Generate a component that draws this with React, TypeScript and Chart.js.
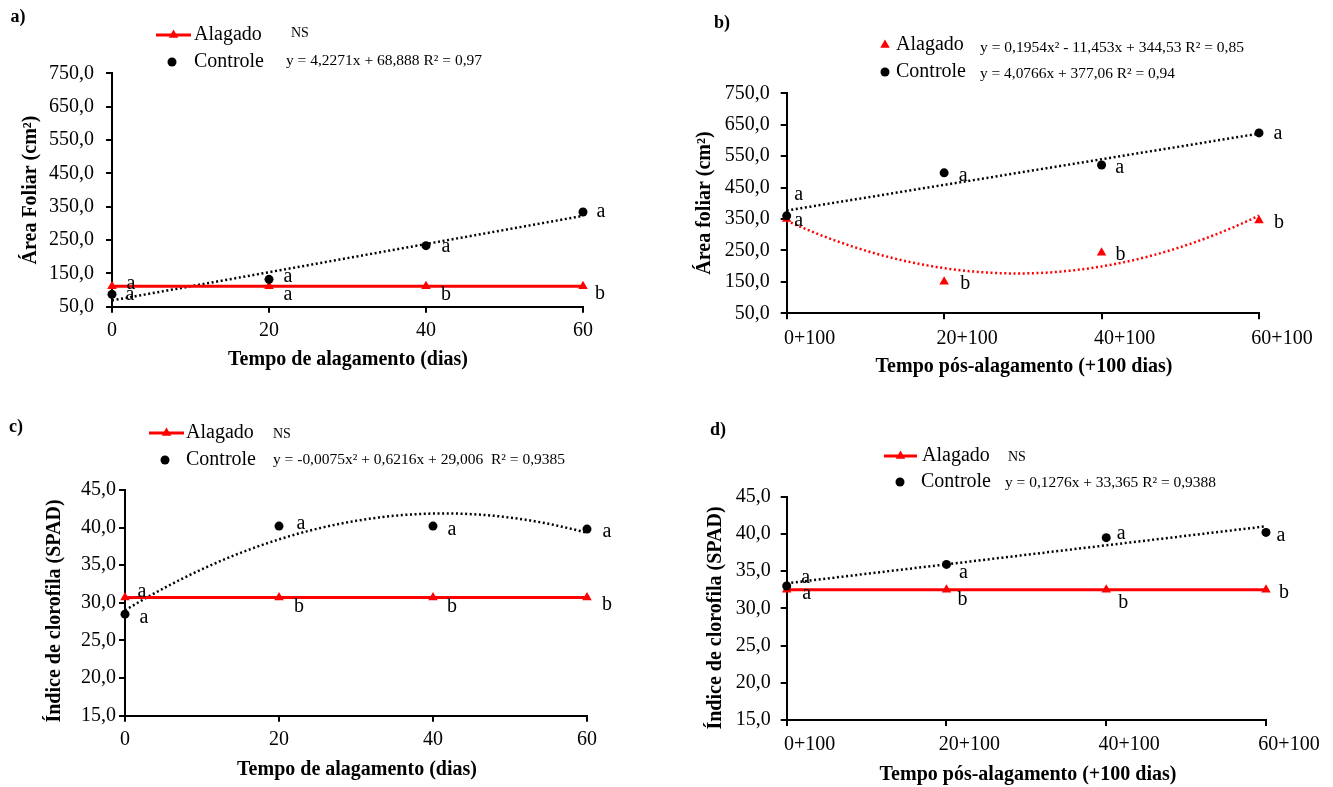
import React, { useEffect, useRef } from "react";
import { Chart, registerables } from "chart.js";

Chart.register(...registerables);

const SERIF = "'Times New Roman', 'Liberation Serif', serif";
const RED = "#ff0000";
const BLACK = "#000000";

// Sampling days shared by the four panels
const days = [0, 20, 40, 60];
const xLabelsFlood = ["0", "20", "40", "60"];
const xLabelsPost = ["0+100", "20+100", "40+100", "60+100"];
const yTicksLeaf = [50, 150, 250, 350, 450, 550, 650, 750];
const yTicksSpad = [15, 20, 25, 30, 35, 40, 45];

// a) leaf area during flooding
const areaFloodAlagado = [111, 111, 111, 111];
const areaFloodControle = [87, 132, 233, 334];
const areaFloodFitControle = [68.888, 4.2271];
const areaFloodLettersAlagado = ["a", "a", "b", "b"];
const areaFloodLettersControle = ["a", "a", "a", "a"];

// b) leaf area after flooding
const areaPostAlagado = [350, 150, 243, 345];
const areaPostControle = [360, 497, 522, 624];
const areaPostFitAlagado = [344.53, -11.453, 0.1954];
const areaPostFitControle = [377.06, 4.0766];
const areaPostLettersAlagado = ["a", "b", "b", "b"];
const areaPostLettersControle = ["a", "a", "a", "a"];

// c) chlorophyll index during flooding
const spadFloodAlagado = [30.7, 30.7, 30.7, 30.7];
const spadFloodControle = [28.5, 40.2, 40.2, 39.8];
const spadFloodFitControle = [29.006, 0.6216, -0.0075];
const spadFloodLettersAlagado = ["a", "b", "b", "b"];
const spadFloodLettersControle = ["a", "a", "a", "a"];

// d) chlorophyll index after flooding
const spadPostAlagado = [32.5, 32.5, 32.5, 32.5];
const spadPostControle = [33.0, 35.9, 39.5, 40.2];
const spadPostFitControle = [33.365, 0.1276];
const spadPostLettersAlagado = ["a", "b", "b", "b"];
const spadPostLettersControle = ["a", "a", "a", "a"];

type XY = [number, number];

type PanelSpec = {
  key: string;
  box: { x: number; y: number; w: number; h: number };
  plot: { l: number; r: number; t: number; b: number };
  yMin: number;
  yMax: number;
  yTicks: number[];
  xLabels: string[];
  xLabelOffset: number;
  yPad: number;
  xPad: number;
  alagado: number[];
  controle: number[];
  alagadoLine: boolean;
  fitAlagado?: number[];
  fitControle: number[];
  lettersAlagado: string[];
  lettersControle: string[];
  offAlagado: XY[];
  offControle: XY[];
  tag: string;
  tagPos: XY;
  yTitle: string;
  yTitlePos: XY;
  xTitle: string;
  xTitlePos: XY;
  legend: {
    alagadoLine?: [number, number];
    alagadoMarker: XY;
    alagadoText: XY;
    controleMarker: XY;
    controleText: XY;
    ns?: XY;
    eqAlagado?: { text: string; pos: XY; width: number };
    eqControle: { text: string; pos: XY; width: number };
  };
};

const panels: PanelSpec[] = [
  {
    key: "a",
    box: { x: 0, y: 0, w: 666, h: 393 },
    plot: { l: 112, r: 583, t: 73.3, b: 306.7 },
    yMin: 50,
    yMax: 750,
    yTicks: yTicksLeaf,
    xLabels: xLabelsFlood,
    xLabelOffset: 0,
    yPad: 12,
    xPad: 6,
    alagado: areaFloodAlagado,
    controle: areaFloodControle,
    alagadoLine: true,
    fitControle: areaFloodFitControle,
    lettersAlagado: areaFloodLettersAlagado,
    lettersControle: areaFloodLettersControle,
    offAlagado: [[19, -4], [19, 7], [20, 7], [17, 6]],
    offControle: [[18, -1], [19, -4], [20, 0], [18, -1]],
    tag: "a)",
    tagPos: [18, 17],
    yTitle: "Área Foliar (cm²)",
    yTitlePos: [31, 190],
    xTitle: "Tempo de alagamento (dias)",
    xTitlePos: [348, 360],
    legend: {
      alagadoLine: [156, 191],
      alagadoMarker: [173.5, 35],
      alagadoText: [194, 35],
      controleMarker: [172, 62],
      controleText: [194, 62],
      ns: [291, 33],
      eqControle: { text: "y = 4,2271x + 68,888 R² = 0,97", pos: [286, 61], width: 196 },
    },
  },
  {
    key: "b",
    box: { x: 666, y: 0, w: 667, h: 393 },
    plot: { l: 786.7, r: 1259, t: 93.3, b: 313.3 },
    yMin: 50,
    yMax: 750,
    yTicks: yTicksLeaf,
    xLabels: xLabelsPost,
    xLabelOffset: 23,
    yPad: 11,
    xPad: 7,
    alagado: areaPostAlagado,
    controle: areaPostControle,
    alagadoLine: false,
    fitAlagado: areaPostFitAlagado,
    fitControle: areaPostFitControle,
    lettersAlagado: areaPostLettersAlagado,
    lettersControle: areaPostLettersControle,
    offAlagado: [[12, 1], [21, 1], [19, 1], [20, 1]],
    offControle: [[12, -22], [19, 2], [18, 2], [19, 0]],
    tag: "b)",
    tagPos: [722, 23],
    yTitle: "Área foliar (cm²)",
    yTitlePos: [705, 203],
    xTitle: "Tempo pós-alagamento (+100 dias)",
    xTitlePos: [1024, 367],
    legend: {
      alagadoMarker: [885, 45],
      alagadoText: [896, 45],
      controleMarker: [885, 72],
      controleText: [896, 72],
      eqAlagado: { text: "y = 0,1954x² - 11,453x + 344,53 R² = 0,85", pos: [980, 48], width: 264 },
      eqControle: { text: "y = 4,0766x + 377,06 R² = 0,94", pos: [980, 74], width: 195 },
    },
  },
  {
    key: "c",
    box: { x: 0, y: 393, w: 666, h: 394 },
    plot: { l: 125, r: 587, t: 490, b: 715.7 },
    yMin: 15,
    yMax: 45,
    yTicks: yTicksSpad,
    xLabels: xLabelsFlood,
    xLabelOffset: 0,
    yPad: 3,
    xPad: 6,
    alagado: spadFloodAlagado,
    controle: spadFloodControle,
    alagadoLine: true,
    fitControle: spadFloodFitControle,
    lettersAlagado: spadFloodLettersAlagado,
    lettersControle: spadFloodLettersControle,
    offAlagado: [[17, -7], [20, 8], [19, 8], [20, 6]],
    offControle: [[19, 3], [22, -3], [19, 3], [20, 2]],
    tag: "c)",
    tagPos: [16, 427],
    yTitle: "Índice de clorofila (SPAD)",
    yTitlePos: [55, 611],
    xTitle: "Tempo de alagamento (dias)",
    xTitlePos: [357, 770],
    legend: {
      alagadoLine: [149, 184],
      alagadoMarker: [166.5, 433],
      alagadoText: [186, 433],
      controleMarker: [165, 460],
      controleText: [186, 460],
      ns: [273, 434],
      eqControle: { text: "y = -0,0075x² + 0,6216x + 29,006  R² = 0,9385", pos: [273, 460], width: 292 },
    },
  },
  {
    key: "d",
    box: { x: 666, y: 393, w: 667, h: 394 },
    plot: { l: 786.7, r: 1266, t: 496.7, b: 720 },
    yMin: 15,
    yMax: 45,
    yTicks: yTicksSpad,
    xLabels: xLabelsPost,
    xLabelOffset: 23,
    yPad: 10,
    xPad: 7,
    alagado: spadPostAlagado,
    controle: spadPostControle,
    alagadoLine: true,
    fitControle: spadPostFitControle,
    lettersAlagado: spadPostLettersAlagado,
    lettersControle: spadPostLettersControle,
    offAlagado: [[20, 3], [16, 9], [17, 12], [18, 2]],
    offControle: [[19, -9], [17, 7], [15, -5], [15, 2]],
    tag: "d)",
    tagPos: [718, 430],
    yTitle: "Índice de clorofila (SPAD)",
    yTitlePos: [716, 618],
    xTitle: "Tempo pós-alagamento (+100 dias)",
    xTitlePos: [1028, 775],
    legend: {
      alagadoLine: [884, 917],
      alagadoMarker: [900.5, 456],
      alagadoText: [922, 456],
      controleMarker: [900, 482],
      controleText: [921, 482],
      ns: [1008, 457],
      eqControle: { text: "y = 0,1276x + 33,365 R² = 0,9388", pos: [1005, 483], width: 211 },
    },
  },
];

// Regression curve sampled from its printed coefficients (c0 + c1 x + c2 x²)
function fitCurve(coef: number[]) {
  const pts: { x: number; y: number }[] = [];
  for (let x = 0; x <= 60; x += 1) {
    let y = 0;
    coef.forEach((c, i) => (y += c * Math.pow(x, i)));
    pts.push({ x, y });
  }
  return pts;
}

function fmtComma(v: number) {
  return v.toFixed(1).replace(".", ",");
}

function drawTriangle(ctx: CanvasRenderingContext2D, x: number, y: number, r: number, color: string) {
  ctx.beginPath();
  ctx.moveTo(x, y - r);
  ctx.lineTo(x + r * 0.866, y + r * 0.5);
  ctx.lineTo(x - r * 0.866, y + r * 0.5);
  ctx.closePath();
  ctx.fillStyle = color;
  ctx.fill();
}

function drawDot(ctx: CanvasRenderingContext2D, x: number, y: number, r: number) {
  ctx.beginPath();
  ctx.arc(x, y, r, 0, Math.PI * 2);
  ctx.fillStyle = BLACK;
  ctx.fill();
}

function text(ctx: CanvasRenderingContext2D, s: string, x: number, y: number, font: string, align: CanvasTextAlign = "left") {
  ctx.font = font;
  ctx.textAlign = align;
  ctx.textBaseline = "middle";
  ctx.fillStyle = BLACK;
  ctx.fillText(s, x, y);
}

function fitText(ctx: CanvasRenderingContext2D, s: string, x: number, y: number, size: number, width: number) {
  ctx.font = `${size}px ${SERIF}`;
  const w = ctx.measureText(s).width;
  const k = Math.min(1.15, Math.max(0.85, width / w));
  ctx.save();
  ctx.translate(x, y);
  ctx.scale(k, 1);
  ctx.textAlign = "left";
  ctx.textBaseline = "middle";
  ctx.fillStyle = BLACK;
  ctx.fillText(s, 0, 0);
  ctx.restore();
}

function annotations(p: PanelSpec) {
  return {
    id: "annotations_" + p.key,
    afterDraw(chart: any) {
      const ctx: CanvasRenderingContext2D = chart.ctx;
      const xs = chart.scales.x;
      const ys = chart.scales.y;
      ctx.save();

      // significance letters beside each mean
      const letterFont = `20px ${SERIF}`;
      days.forEach((d, i) => {
        const px = xs.getPixelForValue(d);
        const pyA = ys.getPixelForValue(p.alagado[i]);
        const pyC = ys.getPixelForValue(p.controle[i]);
        text(ctx, p.lettersAlagado[i], px + p.offAlagado[i][0], pyA + p.offAlagado[i][1] + 1, letterFont, "center");
        text(ctx, p.lettersControle[i], px + p.offControle[i][0], pyC + p.offControle[i][1] + 1, letterFont, "center");
      });

      // the rest is placed in page coordinates
      ctx.translate(-p.box.x, -p.box.y);

      text(ctx, p.tag, p.tagPos[0], p.tagPos[1], `bold 18px ${SERIF}`, "center");

      const lg = p.legend;
      if (lg.alagadoLine) {
        ctx.beginPath();
        ctx.moveTo(lg.alagadoLine[0], lg.alagadoMarker[1]);
        ctx.lineTo(lg.alagadoLine[1], lg.alagadoMarker[1]);
        ctx.strokeStyle = RED;
        ctx.lineWidth = 3;
        ctx.stroke();
      }
      drawTriangle(ctx, lg.alagadoMarker[0], lg.alagadoMarker[1], 5.5, RED);
      drawDot(ctx, lg.controleMarker[0], lg.controleMarker[1], 4.5);
      text(ctx, "Alagado", lg.alagadoText[0], lg.alagadoText[1], `20px ${SERIF}`);
      text(ctx, "Controle", lg.controleText[0], lg.controleText[1], `20px ${SERIF}`);
      if (lg.ns) text(ctx, "NS", lg.ns[0], lg.ns[1], `14px ${SERIF}`);
      if (lg.eqAlagado) fitText(ctx, lg.eqAlagado.text, lg.eqAlagado.pos[0], lg.eqAlagado.pos[1], 15, lg.eqAlagado.width);
      fitText(ctx, lg.eqControle.text, lg.eqControle.pos[0], lg.eqControle.pos[1], 15, lg.eqControle.width);

      // axis titles
      text(ctx, p.xTitle, p.xTitlePos[0], p.xTitlePos[1], `bold 20px ${SERIF}`, "center");
      ctx.save();
      ctx.translate(p.yTitlePos[0], p.yTitlePos[1]);
      ctx.rotate(-Math.PI / 2);
      text(ctx, p.yTitle, 0, 0, `bold 20px ${SERIF}`, "center");
      ctx.restore();

      ctx.restore();
    },
  };
}

function buildConfig(p: PanelSpec): any {
  const datasets: any[] = [
    {
      label: "Controle",
      data: days.map((d, i) => ({ x: d, y: p.controle[i] })),
      showLine: false,
      pointStyle: "circle",
      pointRadius: 4.5,
      pointBackgroundColor: BLACK,
      pointBorderColor: BLACK,
      pointBorderWidth: 0,
      clip: false,
    },
    {
      label: "Alagado",
      data: days.map((d, i) => ({ x: d, y: p.alagado[i] })),
      showLine: p.alagadoLine,
      borderColor: RED,
      borderWidth: 3,
      pointStyle: "triangle",
      pointRadius: 5.5,
      pointBackgroundColor: RED,
      pointBorderColor: RED,
      pointBorderWidth: 0,
      clip: false,
    },
    {
      label: "Controle (ajuste)",
      data: fitCurve(p.fitControle),
      showLine: true,
      pointRadius: 0,
      borderColor: BLACK,
      borderWidth: 2.5,
      borderDash: [2, 2.6],
      clip: false,
    },
  ];
  if (p.fitAlagado) {
    datasets.push({
      label: "Alagado (ajuste)",
      data: fitCurve(p.fitAlagado),
      showLine: true,
      pointRadius: 0,
      borderColor: RED,
      borderWidth: 2.5,
      borderDash: [2, 2.6],
      clip: false,
    });
  }

  const leftSpace = p.plot.l - p.box.x;
  const bottomSpace = p.box.y + p.box.h - p.plot.b;

  return {
    type: "scatter",
    data: { datasets },
    options: {
      responsive: false,
      animation: false,
      devicePixelRatio: 1,
      events: [],
      layout: {
        padding: { left: 0, top: p.plot.t - p.box.y, right: p.box.x + p.box.w - p.plot.r, bottom: 0 },
      },
      plugins: { legend: { display: false }, tooltip: { enabled: false }, title: { display: false } },
      scales: {
        x: {
          type: "linear",
          min: 0,
          max: 60,
          afterBuildTicks: (s: any) => {
            s.ticks = days.map((v) => ({ value: v }));
          },
          afterFit: (s: any) => {
            s.height = bottomSpace;
          },
          ticks: {
            callback: (v: number) => p.xLabels[days.indexOf(v)],
            font: { family: SERIF, size: 20 },
            color: BLACK,
            padding: p.xPad,
            labelOffset: p.xLabelOffset,
            maxRotation: 0,
            autoSkip: false,
          },
          grid: { drawOnChartArea: false, drawTicks: true, tickLength: 6, color: BLACK, lineWidth: 2 },
          border: { display: true, color: BLACK, width: 2 },
        },
        y: {
          type: "linear",
          min: p.yMin,
          max: p.yMax,
          afterBuildTicks: (s: any) => {
            s.ticks = p.yTicks.map((v) => ({ value: v }));
          },
          afterFit: (s: any) => {
            s.width = leftSpace;
          },
          ticks: {
            callback: (v: number) => fmtComma(v),
            font: { family: SERIF, size: 20 },
            color: BLACK,
            padding: p.yPad,
            autoSkip: false,
          },
          grid: { drawOnChartArea: false, drawTicks: true, tickLength: 6, color: BLACK, lineWidth: 2 },
          border: { display: true, color: BLACK, width: 2 },
        },
      },
    },
    plugins: [annotations(p)],
  };
}

function PanelChart({ p }: { p: PanelSpec }) {
  const ref = useRef<HTMLCanvasElement>(null);
  useEffect(() => {
    if (!ref.current) return;
    const chart = new Chart(ref.current, buildConfig(p));
    return () => chart.destroy();
  }, [p]);
  return (
    <canvas
      ref={ref}
      width={p.box.w}
      height={p.box.h}
      style={{ position: "absolute", left: p.box.x, top: p.box.y, width: p.box.w, height: p.box.h }}
    />
  );
}

export default function App() {
  return (
    <div
      style={{
        position: "absolute",
        left: 0,
        top: 0,
        width: 1333,
        height: 787,
        background: "#ffffff",
        overflow: "hidden",
      }}
    >
      {panels.map((p) => (
        <PanelChart key={p.key} p={p} />
      ))}
    </div>
  );
}
